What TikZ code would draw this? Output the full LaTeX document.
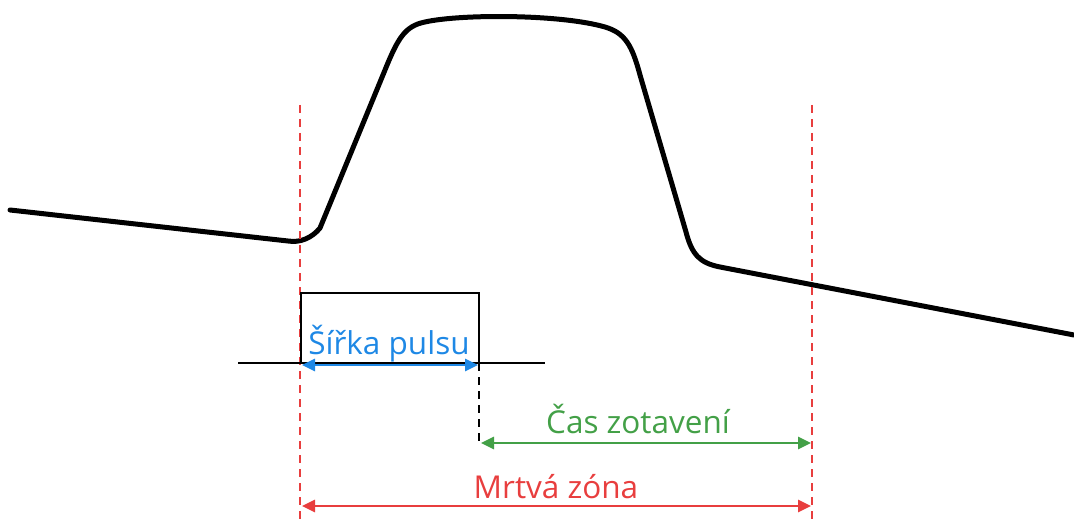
\documentclass[tikz,border=0pt]{standalone}
\usepackage{fontspec}
\setmainfont{Open Sans}
\usetikzlibrary{arrows.meta}
\definecolor{dzred}{RGB}{232,62,62}
\definecolor{pblue}{RGB}{30,136,229}
\definecolor{rgreen}{RGB}{67,160,71}
\tikzset{
  signal/.style={line width=5pt, line join=round, line cap=round},
  thin/.style={line width=2.6pt},
  zone/.style={dzred, line width=2pt, dash pattern=on 8pt off 6pt},
  dim/.style={line width=2.6pt, {Triangle[length=13pt,width=12pt]}-{Triangle[length=13pt,width=12pt]}},
  lbl/.style={anchor=base, inner sep=0pt, font=\fontsize{31.5}{36}\selectfont},
}
\begin{document}
\begin{tikzpicture}[x=1pt,y=-1pt]
\useasboundingbox (0,0) rectangle (1074,524);
% signal curve
\draw[signal] (10,210) -- (288,241) .. controls (300,243) and (312,238) .. (320,228)
  -- (385,70) .. controls (398,38) and (405,26) .. (425,22)
  .. controls (460,14) and (560,14) .. (605,27)
  .. controls (625,33) and (632,45) .. (640,75)
  -- (686,232) .. controls (692,255) and (700,263) .. (720,267) -- (1074,335);
% dead zone bounds
\coordinate (zl1) at (300,105); \coordinate (zl2) at (300,524);
\coordinate (zr1) at (812,105); \coordinate (zr2) at (812,524);
\draw[zone] (zl1) -- (zl2);
\draw[zone] (zr1) -- (zr2);
% pulse
\coordinate (b1) at (238,363); \coordinate (b2) at (545,363);
\coordinate (p1) at (301,363); \coordinate (p2) at (301,293);
\coordinate (p3) at (479,293); \coordinate (p4) at (479,363);
\coordinate (p5) at (479,443);
\draw[thin] (b1) -- (b2);
\draw[thin, line join=miter] (p1) -- (p2) -- (p3) -- (p4);
\draw[thin, dash pattern=on 8pt off 6pt] (p4) -- (p5);
% dimensions
\coordinate (w1) at (302,365); \coordinate (w2) at (478,365);
\draw[dim, pblue] (w1) -- (w2);
\node[lbl, pblue] (wl) at (389,354) {Šířka pulsu};
\coordinate (r1) at (481,443); \coordinate (r2) at (811,443);
\draw[dim, rgreen] (r1) -- (r2);
\node[lbl, rgreen] (rl) at (638,433) {Čas zotavení};
\coordinate (m1) at (302,506); \coordinate (m2) at (811,506);
\draw[dim, dzred] (m1) -- (m2);
\node[lbl, dzred] (ml) at (556,498) {Mrtvá zóna};
\end{tikzpicture}
\end{document}
